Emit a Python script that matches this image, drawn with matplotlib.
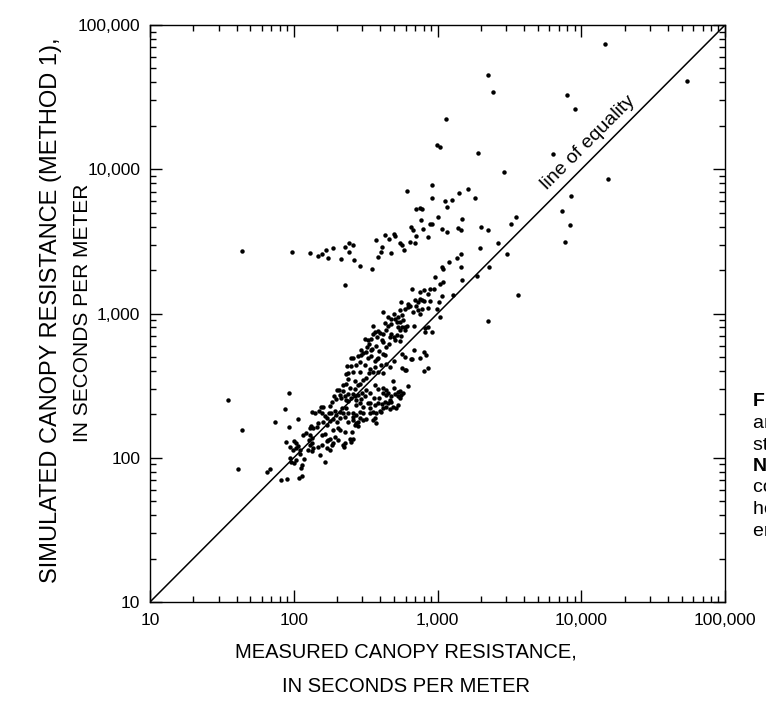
"""Measured vs simulated canopy resistance (method 1), log-log scatter."""
import matplotlib
matplotlib.use("Agg")
import matplotlib.pyplot as plt
from matplotlib.ticker import FixedLocator, FuncFormatter, LogLocator, NullFormatter
import numpy as np

plt.rcParams['font.family'] = ['Liberation Sans', 'DejaVu Sans']

# --- data: (measured, simulated) in s/m ------------------------------------

axis_range = [10, 100000]
major_ticks = [10, 100, 1000, 10000, 100000]

high_outliers = [
    (14700, 73500), (2260, 45000), (2440, 34300), (7900, 32500), (9100, 26200),
    (1140, 22300), (54700, 41000), (985, 14800), (1040, 14200), (1900, 12900),
    (6350, 12700), (2910, 9500), (15400, 8600), (920, 7800), (920, 6350),
    (1120, 6000), (1170, 5500), (1260, 6100), (1420, 6900), (1630, 7300),
    (1810, 6300), (8450, 6500), (7300, 5100), (3530, 4700), (1000, 4700),
    (775, 5300), (1490, 4500), (1450, 3800), (2000, 4000), (2230, 3800),
    (3260, 4200), (8400, 4100), (7750, 3150), (2620, 3100), (1990, 2850),
    (3020, 2600), (1450, 2600), (1460, 2100), (2290, 2100), (1880, 1820),
    (1470, 1700), (3620, 1340), (2260, 890), (615, 7100),
]

upper_band = [
    (44, 2720), (97, 2670), (130, 2620), (148, 2520), (156, 2580), (168, 2770),
    (187, 2830), (172, 2440), (213, 2380), (226, 2910), (241, 3070), (260, 2990),
    (241, 2670), (262, 2360), (288, 2150), (229, 1580), (353, 2040), (376, 3240),
    (384, 2470), (405, 2670), (414, 2910), (432, 3500), (463, 3280), (475, 2620),
    (499, 3550), (505, 3450), (552, 3100), (564, 3000), (582, 2740), (642, 3130),
    (650, 4000), (673, 3800), (696, 3070), (706, 3420), (705, 5300), (750, 5400),
    (765, 4450), (795, 3840), (865, 3400), (880, 4200), (910, 4150), (1080, 3860),
    (1170, 3690), (1385, 3930), (1370, 2420), (1200, 2270), (1080, 2110),
    (1100, 2040),
]

near_line = [
    (960, 1780), (1040, 1600), (1090, 1660), (885, 1470), (945, 1470), (760, 1420),
    (810, 1450), (855, 1360), (1080, 1330), (1290, 1350), (775, 1240), (800, 1215),
    (885, 1220), (1030, 1200), (775, 1080), (995, 1080), (750, 1000), (1040, 940),
    (855, 800), (815, 740), (915, 740), (830, 515), (800, 400), (860, 420),
    (860, 1090), (730, 1055), (675, 1025),
]

cluster_upper = [
    (670, 1490), (700, 1250), (750, 1260), (735, 1200), (555, 1210), (625, 1170),
    (645, 1130), (705, 1120), (684, 560), (655, 480), (595, 500), (500, 470),
    (490, 342), (418, 1030), (455, 940), (500, 1000), (510, 920), (525, 880),
    (552, 1050), (565, 975), (595, 1075), (620, 1110), (530, 800), (545, 765),
    (570, 800), (590, 810), (560, 700), (500, 690), (520, 715), (478, 850),
    (455, 820), (440, 770), (420, 720), (386, 760), (395, 735), (356, 815),
    (365, 740), (412, 655), (417, 630), (460, 615), (356, 720), (380, 690),
    (343, 665), (334, 615), (324, 590), (353, 565), (372, 600), (392, 550),
    (418, 525), (430, 515), (388, 495), (320, 545), (296, 515), (330, 495),
    (343, 505), (365, 465), (382, 480), (407, 440), (440, 445), (465, 425),
    (570, 520), (565, 417), (590, 405), (605, 408), (670, 480), (750, 495),
    (800, 545), (478, 910), (535, 945), (546, 880), (575, 905), (610, 820),
    (430, 860), (595, 770), (685, 815), (815, 790), (313, 670), (330, 655),
    (343, 560), (296, 560), (305, 530), (252, 495), (440, 590), (505, 660),
    (546, 650), (465, 690), (478, 725), (365, 425),
]

cluster_middle = [
    (259, 494), (280, 505), (252, 430), (271, 440), (288, 460), (312, 440),
    (340, 410), (356, 394), (240, 386), (259, 394), (236, 436), (266, 338),
    (288, 326), (305, 348), (320, 356), (334, 386), (232, 324), (245, 305),
    (267, 300), (207, 296), (220, 290), (238, 276), (259, 276), (280, 272),
    (300, 283), (190, 270), (198, 256), (212, 260), (440, 295), (455, 283),
    (418, 280), (510, 277), (546, 290), (575, 283), (625, 315), (386, 300),
    (360, 261), (390, 260), (497, 305), (92, 283), (35, 253), (386, 392),
    (418, 386), (288, 392), (535, 266), (546, 260), (560, 272), (464, 252),
    (478, 245), (330, 241), (407, 209), (365, 188), (338, 221), (280, 178),
    (259, 193), (271, 198), (266, 168), (239, 178), (255, 152), (296, 256),
    (312, 266), (266, 266),
]

cluster_lower = [
    (43.5, 156), (41, 83), (65, 80), (68.5, 83), (74.5, 178), (87.5, 217),
    (92, 164), (107, 187), (89, 128), (100, 131), (94, 119), (99, 113),
    (104, 116), (107, 121), (116, 144), (122, 148), (129, 144), (94, 99),
    (96, 94), (101, 92), (110, 106), (117, 98), (114, 89), (104, 97),
    (81, 70), (90, 71), (109, 72), (114, 75), (133, 209), (141, 205),
    (131, 166), (136, 160), (127, 133), (135, 137), (133, 126), (126, 113),
    (135, 112), (136, 116), (152, 104), (164, 93), (156, 122), (169, 131),
    (156, 144), (164, 146), (148, 174), (160, 178), (169, 169), (156, 203),
    (166, 195), (176, 205), (155, 224), (161, 226), (183, 203), (193, 210),
    (178, 180), (188, 185), (201, 178), (188, 156), (203, 162), (173, 133),
    (188, 126), (178, 113), (186, 122), (209, 156), (226, 152), (220, 122),
    (222, 119), (245, 136), (259, 134), (252, 129), (209, 188), (226, 193),
    (238, 203), (209, 209), (215, 220), (232, 220), (259, 183), (271, 175),
    (280, 167), (259, 203), (288, 209), (305, 203), (288, 188), (305, 183),
    (320, 185), (271, 232), (288, 241), (305, 225), (232, 252), (252, 260),
    (270, 252), (338, 203), (356, 209), (376, 205), (396, 212), (356, 183),
    (376, 175), (338, 239), (365, 232), (386, 241), (408, 236), (430, 244),
    (455, 239), (418, 220), (440, 224), (464, 217), (490, 225), (517, 220),
    (530, 232), (440, 273), (478, 266), (530, 287), (338, 279), (320, 295),
    (418, 306), (280, 322), (365, 322), (150, 210), (178, 228), (186, 243),
    (200, 295), (209, 273), (226, 266), (238, 248), (220, 320), (232, 380),
    (238, 350), (198, 199), (220, 203), (170, 188), (144, 164), (129, 160),
    (104, 126), (110, 113), (113, 85), (129, 122), (148, 119), (169, 116),
    (178, 136), (193, 140), (203, 132), (226, 126),
]

# caption sits partly outside the page, only its first letters show
caption_lines = [
    ("Figure 14.", "bold"),
    ("areal canopy resistance at the", "normal"),
    ("station, 1990-92.", "normal"),
    ("NOTE: Only daytime", "bold"),
    ("conditions with complete", "normal"),
    ("hourly data used in the", "normal"),
    ("energy-balance calculation.", "normal"),
]

# --- plot --------------------------------------------------------------------

pts = np.array(high_outliers + upper_band + near_line + cluster_upper
               + cluster_middle + cluster_lower)

fig = plt.figure(figsize=(7.66, 7.07), dpi=100)
ax = fig.add_axes([0.1958, 0.1485, 0.7507, 0.8161])

ax.plot(axis_range, axis_range, color="black", lw=1.1, zorder=2)
ax.plot(pts[:, 0], pts[:, 1], "o", color="black", ms=3.2, mec="none", zorder=3)

ax.set_xscale("log")
ax.set_yscale("log")
ax.set_xlim(axis_range)
ax.set_ylim(axis_range)

fmt = FuncFormatter(lambda v, p: f"{v:,.0f}")
for axis in (ax.xaxis, ax.yaxis):
    axis.set_major_locator(FixedLocator(major_ticks))
    axis.set_major_formatter(fmt)
    axis.set_minor_locator(LogLocator(base=10, subs=range(2, 10)))
    axis.set_minor_formatter(NullFormatter())

ax.tick_params(which="both", direction="in", top=True, right=True,
               width=1.0, labelsize=12.5, color="black")
ax.tick_params(which="major", length=8.5)
ax.tick_params(which="minor", length=4.5)
ax.tick_params(axis="x", pad=8)
ax.tick_params(axis="y", pad=7)
for sp in ax.spines.values():
    sp.set_linewidth(1.0)

ax.annotate("line of equality", xy=(13100, 13100), xytext=(-4.6, 4.6),
            textcoords="offset points", rotation=45, rotation_mode="anchor",
            ha="center", va="baseline", fontsize=14)

fig.text(406 / 766, 1 - 652 / 707, "MEASURED CANOPY RESISTANCE,",
         ha="center", va="center", fontsize=14.5)
fig.text(406 / 766, 1 - 687 / 707, "IN SECONDS PER METER",
         ha="center", va="center", fontsize=14.5)
fig.text(51 / 766, 1 - 310 / 707, "SIMULATED CANOPY RESISTANCE (METHOD 1),",
         ha="center", va="center", rotation=90, fontsize=17)
fig.text(82 / 766, 1 - 313 / 707, "IN SECONDS PER METER",
         ha="center", va="center", rotation=90, fontsize=15)

for i, (line, weight) in enumerate(caption_lines):
    fig.text(753 / 766, 1 - (402 + 21.5 * i) / 707, line, ha="left",
             va="center", fontsize=14, fontweight=weight)

fig.savefig("out.png", dpi=100)
plt.close(fig)
